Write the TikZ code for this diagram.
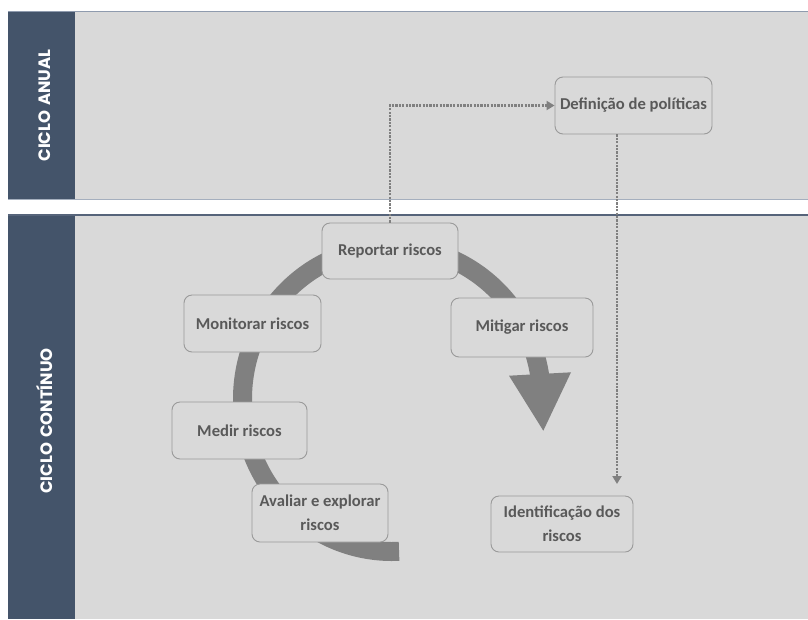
\documentclass[tikz,border=0pt]{standalone}
\usepackage{fontspec}
\setmainfont{Carlito}
\newfontfamily\headfont{Poppins}
\usetikzlibrary{arrows.meta,calc}
\definecolor{hdr}{HTML}{44546A}
\definecolor{lane}{HTML}{D9D9D9}
\definecolor{txt}{HTML}{595959}
\definecolor{bord}{HTML}{9A9A9A}
\definecolor{arcgray}{HTML}{808080}
\definecolor{lineA}{HTML}{8F9BAE}
\definecolor{lineB}{HTML}{56647A}
\tikzset{
  stepbox/.style={draw=bord, line width=0.9pt, fill=lane, rounded corners=8pt,
    font=\fontsize{16.6}{24}\selectfont\bfseries, text=txt, align=center, inner sep=2pt},
  lanehdr/.style={font=\headfont\fontsize{16.5}{18}\selectfont\bfseries, text=white, rotate=90},
  flow/.style={draw=arcgray, line width=2.6pt, dash pattern=on 2.2pt off 1.2pt,
    -{Triangle[length=8pt,width=9pt,fill=arcgray]}},
}
\begin{document}
\begin{tikzpicture}[x=1pt,y=-1pt]
\useasboundingbox (0,0) rectangle (808,619);
\fill[white] (0,0) rectangle (808,619);
% lanes
\fill[lane] (75,11.5) rectangle (808,200);
\fill[hdr] (8,11.5) rectangle (75,200);
\draw[lineA, line width=1.6pt] (8,11.5) -- (808,11.5);
\draw[lineA!80!white, line width=1.3pt] (8,199.5) -- (808,199.5);
\fill[lane] (75,215) rectangle (808,619);
\fill[hdr] (8,215) rectangle (75,619);
\draw[lineB, line width=1.6pt] (8,215) -- (808,215);
\node[lanehdr] (h1) at (44.5,105.5) {CICLO\hspace{0.3em}ANUAL};
\node[lanehdr] (h2) at (44.5,421) {CICLO\hspace{0.3em}CONTÍNUO};
% big circular arrow
\draw[arcgray, line width=19pt] (392,399) ++(272.7:149.5pt and 152.5pt)
  arc[start angle=272.7, end angle=8.5, x radius=149.5pt, y radius=152.5pt];
\fill[arcgray] (509,375.7) -- (571,372.3) -- (543.3,430.7) -- cycle;
% boxes
\node[stepbox, minimum width=157pt, minimum height=57pt] (def) at (633.5,105.5) {Definição de políticas};
\node[stepbox, minimum width=136pt, minimum height=56pt] (rep) at (390,251) {Reportar riscos};
\node[stepbox, minimum width=137pt, minimum height=57pt] (mon) at (252.5,323.5) {Monitorar riscos};
\node[stepbox, minimum width=142pt, minimum height=59pt] (mit) at (522,327.5) {Mitigar riscos};
\node[stepbox, minimum width=135pt, minimum height=57pt] (med) at (239.5,430.5) {Medir riscos};
\node[stepbox, minimum width=136pt, minimum height=58pt] (ava) at (320,513) {Avaliar e explorar\\riscos};
\node[stepbox, minimum width=142pt, minimum height=56pt] (idf) at (562,524) {Identificação dos\\riscos};
% connectors
\coordinate (idtop) at (617,484);
\draw[flow] (rep.north) |- (def.west);
\draw[flow] (def.south -| idtop) -- (idtop);
\end{tikzpicture}
\end{document}
